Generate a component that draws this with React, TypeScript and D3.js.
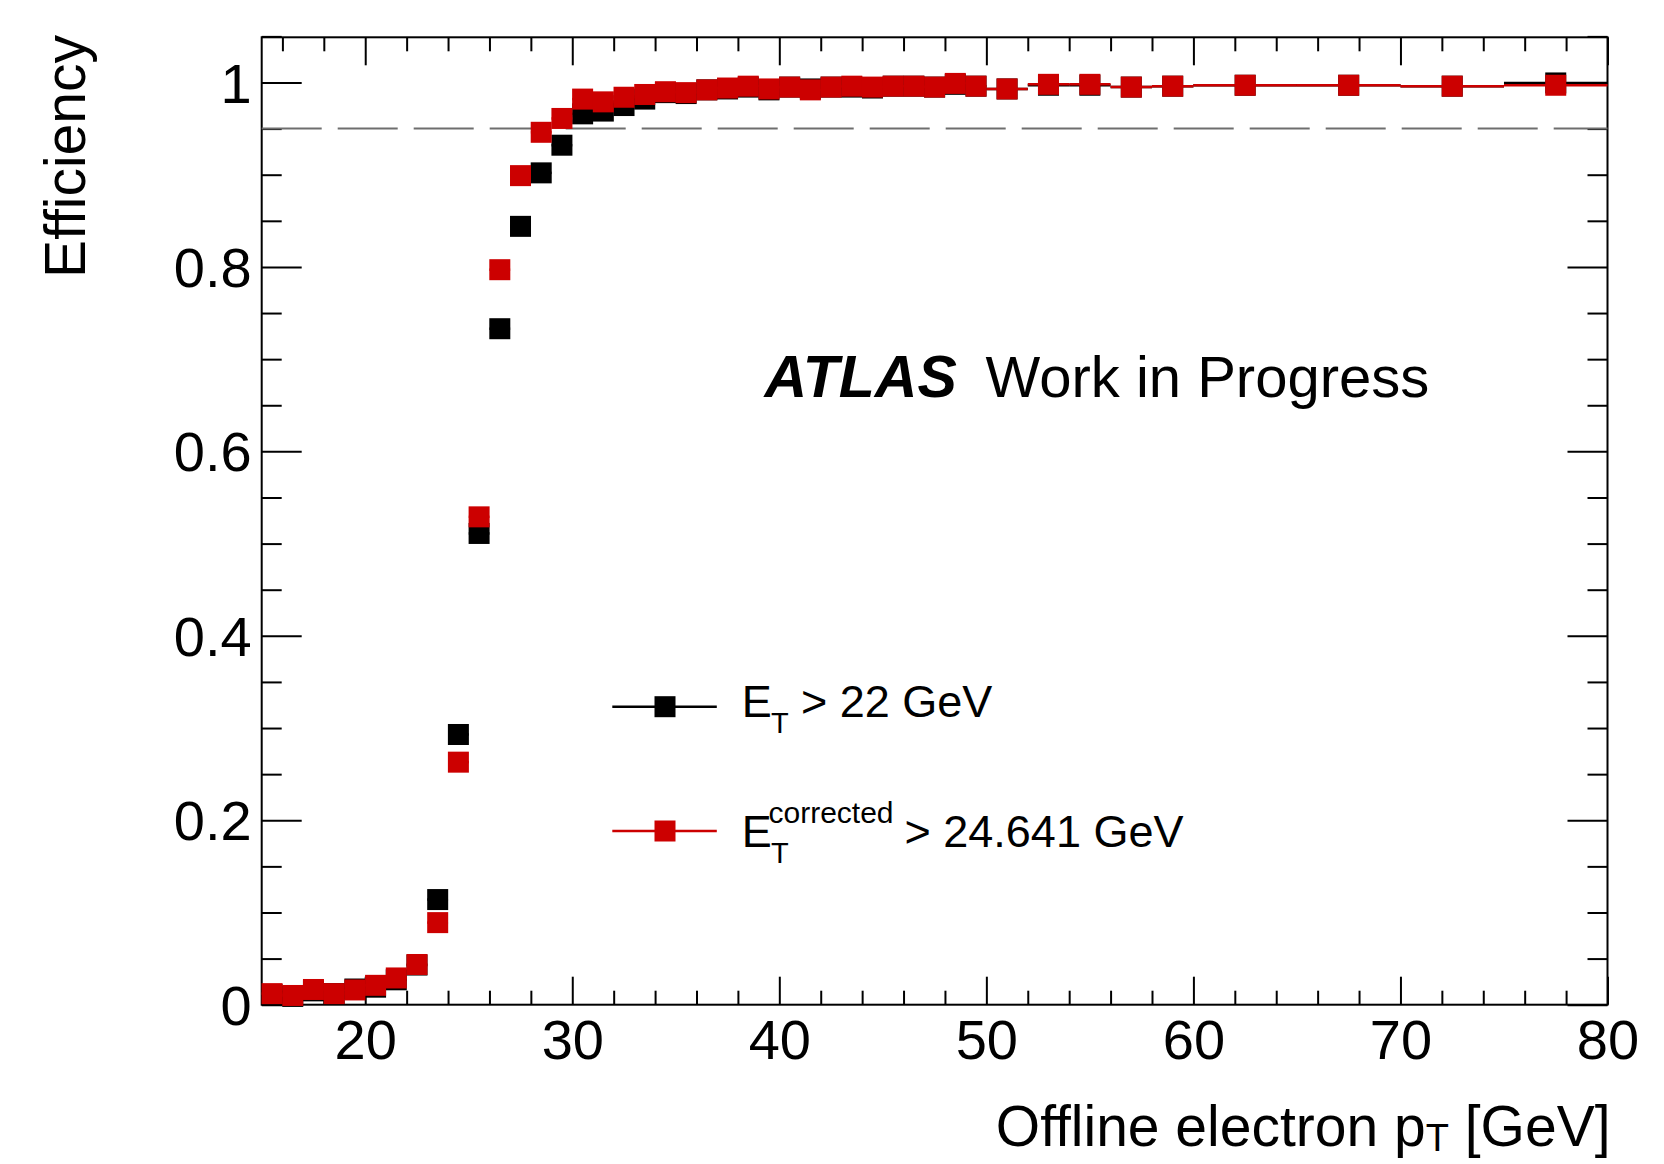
import React, { useEffect, useRef } from 'react';
import * as d3 from 'd3';

// bin edges of offline electron pT [GeV]
const binEdges = [15, 16, 17, 18, 19, 20, 21, 22, 23, 24, 25, 26, 27, 28, 29, 30, 31, 32, 33, 34, 35,
  36, 37, 38, 39, 40, 41, 42, 43, 44, 45, 46, 47, 48, 49, 50, 52, 54, 56, 58, 60, 65, 70, 75, 80];

// efficiency, E_T > 22 GeV
const effNominal = [0.011, 0.009, 0.015, 0.012, 0.017, 0.019, 0.027, 0.043, 0.114, 0.293, 0.511, 0.733,
  0.844, 0.902, 0.932, 0.966, 0.969, 0.975, 0.982, 0.989, 0.988, 0.992, 0.993, 0.995, 0.992, 0.995,
  0.993, 0.995, 0.995, 0.994, 0.996, 0.996, 0.995, 0.998, 0.996, 0.993, 0.997, 0.997, 0.995, 0.996,
  0.997, 0.997, 0.996, 0.9995];

// efficiency, E_T^corrected > 24.641 GeV
const effCorrected = [0.012, 0.010, 0.0165, 0.012, 0.016, 0.021, 0.029, 0.0436, 0.089, 0.263, 0.529, 0.797,
  0.899, 0.946, 0.961, 0.982, 0.979, 0.984, 0.987, 0.990, 0.989, 0.992, 0.994, 0.996, 0.993, 0.995,
  0.992, 0.995, 0.996, 0.995, 0.996, 0.996, 0.995, 0.999, 0.996, 0.993, 0.998, 0.998, 0.995, 0.996,
  0.997, 0.997, 0.996, 0.997];

const xMajor = [20, 30, 40, 50, 60, 70, 80];
const xMinor = [16, 18, 22, 24, 26, 28, 32, 34, 36, 38, 42, 44, 46, 48, 52, 54, 56, 58, 62, 64, 66, 68, 72, 74, 76, 78];
const yMajor = [0, 0.2, 0.4, 0.6, 0.8, 1];
const yMinor = [0.05, 0.1, 0.15, 0.25, 0.3, 0.35, 0.45, 0.5, 0.55, 0.65, 0.7, 0.75, 0.85, 0.9, 0.95, 1.05];
const refLine = 0.95;

const W = 1664;
const H = 1164;
const FONT = '"Liberation Sans", Arial, Helvetica, sans-serif';
const RED = '#cc0000';

export default function App() {
  const ref = useRef<SVGSVGElement>(null);

  useEffect(() => {
    const svg = d3.select(ref.current);
    svg.selectAll('*').remove();

    const left = 261.7, right = 1607.5, top = 37.3, bottom = 1004.7;
    const x = d3.scaleLinear().domain([15, 80]).range([left, right]);
    const y = d3.scaleLinear().domain([0, 1.049]).range([bottom, top]);

    const fmtY = (d) => (d === 0 ? '0' : d === 1 ? '1' : d3.format('.1f')(d));

    // axes, ROOT style ticks pointing inside
    const axes = svg.append('g');
    const bx = axes.append('g').attr('transform', `translate(0,${bottom})`)
      .call(d3.axisBottom(x).tickValues(xMajor).tickSize(-28).tickSizeOuter(0).tickPadding(14.5));
    axes.append('g').attr('transform', `translate(0,${bottom})`)
      .call(d3.axisBottom(x).tickValues(xMinor).tickSize(-14).tickSizeOuter(0).tickFormat(() => ''));
    axes.append('g').attr('transform', `translate(0,${top})`)
      .call(d3.axisTop(x).tickValues(xMajor).tickSize(-28).tickSizeOuter(0).tickFormat(() => ''));
    axes.append('g').attr('transform', `translate(0,${top})`)
      .call(d3.axisTop(x).tickValues(xMinor).tickSize(-14).tickSizeOuter(0).tickFormat(() => ''));
    const ly = axes.append('g').attr('transform', `translate(${left},0)`)
      .call(d3.axisLeft(y).tickValues(yMajor).tickSize(-40).tickSizeOuter(0).tickPadding(10).tickFormat(fmtY));
    axes.append('g').attr('transform', `translate(${left},0)`)
      .call(d3.axisLeft(y).tickValues(yMinor).tickSize(-20).tickSizeOuter(0).tickFormat(() => ''));
    axes.append('g').attr('transform', `translate(${right},0)`)
      .call(d3.axisRight(y).tickValues(yMajor).tickSize(-40).tickSizeOuter(0).tickFormat(() => ''));
    axes.append('g').attr('transform', `translate(${right},0)`)
      .call(d3.axisRight(y).tickValues(yMinor).tickSize(-20).tickSizeOuter(0).tickFormat(() => ''));

    axes.selectAll('.domain').remove();
    axes.selectAll('.tick line').attr('stroke', '#000').attr('stroke-width', 2);
    bx.selectAll('text').attr('font-family', FONT).attr('font-size', 56).attr('fill', '#000');
    ly.selectAll('text').attr('font-family', FONT).attr('font-size', 56).attr('fill', '#000').attr('dy', '0.35em');

    // frame
    svg.append('rect')
      .attr('x', left).attr('y', top)
      .attr('width', right - left).attr('height', bottom - top)
      .attr('fill', 'none').attr('stroke', '#000').attr('stroke-width', 2);

    // 95% line
    svg.append('line')
      .attr('x1', left).attr('x2', right)
      .attr('y1', y(refLine)).attr('y2', y(refLine))
      .attr('stroke', '#6e6e6e').attr('stroke-width', 2)
      .attr('stroke-dasharray', '60 16');

    const bins = effNominal.map((_, i) => ({ lo: binEdges[i], hi: binEdges[i + 1] }));
    const ms = 21;

    //画点和横向误差
    const drawSeries = (vals, color) => {
      const g = svg.append('g');
      g.selectAll('line')
        .data(vals)
        .enter()
        .append('line')
        .attr('x1', (d, i) => x(bins[i].lo))
        .attr('x2', (d, i) => x(bins[i].hi))
        .attr('y1', (d) => y(d))
        .attr('y2', (d) => y(d))
        .attr('stroke', color)
        .attr('stroke-width', 2.5);
      g.selectAll('rect')
        .data(vals)
        .enter()
        .append('rect')
        .attr('x', (d, i) => x((bins[i].lo + bins[i].hi) / 2) - ms / 2)
        .attr('y', (d) => y(d) - ms / 2)
        .attr('width', ms)
        .attr('height', ms)
        .attr('fill', color);
    };
    drawSeries(effNominal, '#000');
    drawSeries(effCorrected, RED);

    // axis titles
    const xt = svg.append('text')
      .attr('x', 1610.5).attr('y', 1146)
      .attr('text-anchor', 'end')
      .attr('font-family', FONT).attr('font-size', 57);
    xt.append('tspan').text('Offline electron p');
    xt.append('tspan').attr('font-size', 38).attr('dy', 5).text('T');
    xt.append('tspan').attr('dy', -5).text(' [GeV]');

    svg.append('text')
      .attr('transform', 'translate(85,35) rotate(-90)')
      .attr('text-anchor', 'end')
      .attr('font-family', FONT).attr('font-size', 57)
      .text('Efficiency');

    // ATLAS label
    svg.append('text')
      .attr('x', 764.5).attr('y', 396.7)
      .attr('font-family', FONT).attr('font-size', 59)
      .attr('font-weight', 'bold').attr('font-style', 'italic')
      .text('ATLAS');
    svg.append('text')
      .attr('x', 985.5).attr('y', 396.7)
      .attr('font-family', FONT).attr('font-size', 58)
      .text('Work in Progress');

    // legend
    const legend = [
      { color: '#000', ly: 706.7, base: 716.7 },
      { color: RED, ly: 831, base: 846.7 },
    ];
    legend.forEach((l) => {
      svg.append('line')
        .attr('x1', 612.3).attr('x2', 716.8)
        .attr('y1', l.ly).attr('y2', l.ly)
        .attr('stroke', l.color).attr('stroke-width', 2.5);
      svg.append('rect')
        .attr('x', 665 - ms / 2).attr('y', l.ly - ms / 2)
        .attr('width', ms).attr('height', ms)
        .attr('fill', l.color);
      svg.append('text')
        .attr('x', 741.7).attr('y', l.base)
        .attr('font-family', FONT).attr('font-size', 45)
        .text('E');
      svg.append('text')
        .attr('x', 771).attr('y', l.base + 16)
        .attr('font-family', FONT).attr('font-size', 29)
        .text('T');
    });
    svg.append('text')
      .attr('x', 801).attr('y', 716.7)
      .attr('font-family', FONT).attr('font-size', 45)
      .text('> 22 GeV');
    svg.append('text')
      .attr('x', 768.5).attr('y', 823.3)
      .attr('font-family', FONT).attr('font-size', 30)
      .text('corrected');
    svg.append('text')
      .attr('x', 904.5).attr('y', 846.7)
      .attr('font-family', FONT).attr('font-size', 45)
      .text('> 24.641 GeV');
  }, []);

  return (
    <svg
      ref={ref}
      width={W}
      height={H}
      style={{ position: 'absolute', left: 0, top: 0, background: '#fff' }}
    />
  );
}
